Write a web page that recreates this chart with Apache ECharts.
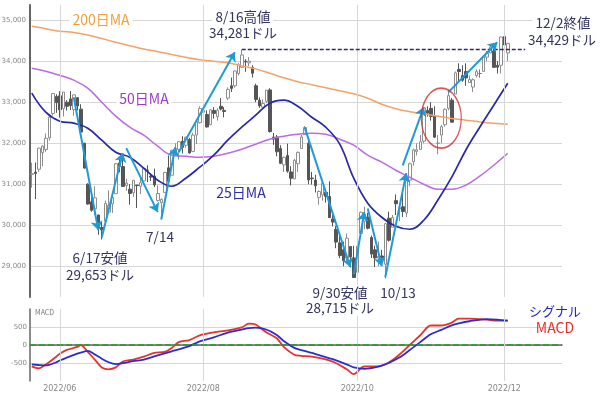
<!DOCTYPE html>
<html><head><meta charset="utf-8">
<script src="https://cdn.jsdelivr.net/npm/echarts@6/dist/echarts.min.js"></script>
<style>html,body{margin:0;padding:0;background:#fff}#c{width:600px;height:395px}</style>
</head><body><div id="c"></div>
<script>
// ---- categories (trading days, 2022) ----
const dates = ['5/19','5/20','5/23','5/24','5/25','5/26','5/27','5/31',
'6/1','6/2','6/3','6/6','6/7','6/8','6/9','6/10','6/13','6/14','6/15','6/16','6/17','6/21','6/22','6/23','6/24','6/27','6/28','6/29','6/30',
'7/1','7/5','7/6','7/7','7/8','7/11','7/12','7/13','7/14','7/15','7/18','7/19','7/20','7/21','7/22','7/25','7/26','7/27','7/28','7/29',
'8/1','8/2','8/3','8/4','8/5','8/8','8/9','8/10','8/11','8/12','8/15','8/16','8/17','8/18','8/19','8/22','8/23','8/24','8/25','8/26','8/29','8/30','8/31',
'9/1','9/2','9/6','9/7','9/8','9/9','9/12','9/13','9/14','9/15','9/16','9/19','9/20','9/21','9/22','9/23','9/26','9/27','9/28','9/29','9/30',
'10/3','10/4','10/5','10/6','10/7','10/10','10/11','10/12','10/13','10/14','10/17','10/18','10/19','10/20','10/21','10/24','10/25','10/26','10/27','10/28','10/31',
'11/1','11/2','11/3','11/4','11/7','11/8','11/9','11/10','11/11','11/14','11/15','11/16','11/17','11/18','11/21','11/22','11/23','11/25','11/28','11/29','11/30',
'12/1','12/2'];
const padDates = ['12/5','12/6','12/7','12/8','12/9','12/12','12/13','12/14','12/15','12/16','12/19','12/20','12/21','12/22','12/23'];

// ---- OHLC ----
const open = [31240,31294,31366,31770,31845,32130,32725,33138,
33156,32843,33000,33080,32820,33110,32830,32000,31000,30570,30400,30250,29945,30100,30320,30520,30770,31520,31430,30970,30880,
30790,30980,30950,31080,31340,31200,31200,30600,30550,30800,31400,31220,31800,31850,32050,31950,32090,31800,32200,32500,
32750,32700,32450,32800,32650,32900,32800,33100,33400,33400,33700,33850,34000,33960,33850,33400,33050,32880,33020,33300,32150,32150,31870,
31470,31700,31300,31130,31500,31870,32210,32000,31150,31100,30680,30740,30800,30700,30150,29900,29570,29400,29200,29480,29200,
28850,29800,30100,30200,29700,29400,29200,29250,29050,30170,29950,30600,30400,30450,30300,31100,31550,31800,31850,32050,32800,
32850,32660,32000,32200,32450,32850,33050,33200,33800,33650,33750,33480,33370,33650,33700,33750,34100,34200,34250,33900,33900,
34600,34200];
const close = [31253,31262,31880,31928,32120,32637,33213,32990,
32813,33248,32900,32916,33180,32910,32272,31393,30517,30365,30668,29927,29888,30530,30484,30677,31500,31438,30947,31029,30775,
31097,30967,31037,31385,31338,31173,30982,30773,30630,31288,31073,31827,31875,32036,31899,32145,31762,32198,32530,32845,
32798,32397,32813,32727,32803,32833,32775,33310,33337,33761,33913,34152,33981,33999,33707,33064,32910,32970,33292,32283,32099,31791,31510,
31656,31318,31145,31581,31775,32152,32381,31105,31135,30961,30822,31020,30706,30184,30077,29590,29261,29135,29684,29226,28726,
29491,30317,30274,29927,29297,29203,29240,29211,30039,29635,30186,30524,30424,30334,31083,31500,31837,31839,32034,32861,32733,
32653,32148,32002,32403,32827,33161,32514,33716,33748,33537,33593,33554,33547,33746,33700,34098,34195,34347,33850,33853,34590,
34395,34430];
const low = [30915,30636,31300,31444,31788,32062,32674,32740,
32623,32650,32795,32812,32670,32800,32270,31380,30500,30330,30250,29770,29653,30100,30290,30300,30770,31290,30940,30840,30500,
30690,30420,30760,31080,31050,31080,30930,30580,30143,30800,31050,31220,31700,31600,31750,31890,31750,31780,31980,32480,
32550,32380,32440,32600,32550,32800,32630,33050,33250,33350,33650,33850,33740,33880,33600,33000,32860,32850,32980,32260,31960,31680,31490,
31300,31280,30970,31130,31300,31870,32200,31000,30990,30800,30500,30600,30550,30180,29970,29440,29200,29000,29120,28970,28715,
28850,29800,29900,29900,29200,28980,29000,29180,28700,29600,29950,30250,30100,30200,30200,30950,31450,31700,31850,32000,32650,
32550,32130,31730,32000,32400,32800,32500,33200,33500,33500,33400,33480,33250,33600,33600,33750,34000,34200,33850,33700,33700,
34200,34000];
const high = [31526,31529,31885,31950,32237,32691,33213,33193,
33271,33250,33050,33272,33180,33128,32950,32010,31020,30680,30950,30250,30090,30600,30850,30730,31510,31650,31700,31130,31000,
31100,30980,31190,31400,31460,31270,31380,30970,30650,31300,31700,31830,32000,32050,32170,32160,32130,32250,32560,32900,
32970,32800,32830,32880,32850,33100,32880,33360,33600,33770,33960,34281,34050,34100,33900,33450,33120,33070,33300,33340,32250,32200,31950,
31670,31990,31440,31620,31800,32200,32420,32050,31300,31230,30850,31030,30890,31070,30260,29980,29800,29600,29800,29490,29500,
29520,30330,30450,30300,29750,29500,29600,29400,30040,30330,30250,30750,30500,30800,31100,31530,31870,32000,32200,32870,32900,
33000,32900,32200,32450,32850,33300,33100,33750,33950,33900,33950,33650,33580,33800,33800,34100,34250,34370,34300,34000,34590,
34600,34450];

// ---- moving averages ----
const maDates = ['5/19','5/25','6/1','6/7','6/13','6/17','6/24','6/30','7/7','7/13','7/19','7/25','7/29','8/4','8/10','8/16','8/22','8/26',
'9/1','9/8','9/14','9/20','9/26','9/30','10/6','10/12','10/18','10/24','10/28','11/3','11/9','11/15','11/21','11/28','12/2'];
const ma25 = [33220,32756,32537,32488,32366,32073,31781,31659,31390,31098,30951,31146,31415,31707,32073,32390,32683,32976,
33049,32902,32634,32390,31976,31146,30537,30195,29976,29902,30122,30610,31171,31829,32390,32927,33463];
const ma50 = [33829,33756,33659,33537,33341,33000,32659,32390,32195,31927,31707,31683,31659,31683,31756,31854,31976,32098,
32171,32220,32244,32220,32098,31951,31707,31537,31341,31171,31000,30878,30878,30976,31195,31463,31756];
const ma200 = [34854,34793,34732,34700,34637,34551,34463,34378,34298,34232,34163,34095,34037,34000,33963,33885,33812,33707,
33598,33500,33427,33354,33278,33207,33098,32950,32841,32768,32717,32659,32602,32561,32520,32488,32463];

// ---- MACD ----
const macdDates = ['5/19','5/23','5/25','5/31','6/1','6/3','6/8','6/9','6/13','6/15','6/17','6/22','6/24','6/28','7/1','7/7','7/12','7/15','7/19','7/21',
'7/26','7/29','8/4','8/10','8/16','8/18','8/22','8/25','8/30','9/1','9/7','9/9','9/14','9/22','9/28','9/30','10/5','10/11','10/14','10/19',
'10/24','10/27','11/1','11/4','11/9','11/11','11/16','11/23','11/29','12/2'];
const macd = [-595,-649,-541,-324,-243,-135,-54,0,-189,-405,-622,-676,-622,-460,-405,-324,-216,-189,-81,81,
135,270,351,405,487,595,568,351,189,-54,-270,-300,-324,-460,-676,-811,-595,-595,-487,-270,
0,270,541,541,622,730,730,703,676,676];
const signal = [-541,-555,-568,-480,-432,-350,-240,-210,-165,-260,-380,-480,-530,-505,-450,-405,-315,-230,-175,-120,
-30,100,210,345,430,470,480,430,280,110,-80,-140,-220,-395,-540,-620,-660,-600,-500,-350,
-140,80,300,420,545,600,660,720,705,676];

// ---- axis ticks ----
const monthTicks = ['6/1','8/1','10/3','12/1'];
const monthLabels = ['2022/06','2022/08','2022/10','2022/12'];

// ---- annotations (data coordinates) ----
const arrows = [
 ['6/7',33120,'6/16',29880],
 ['6/17',29700,'6/28',31760],
 ['6/29',31880,'7/13',30320],
 ['7/14',30140,'7/20',31900],
 ['7/21',31780,'8/12',34220],
 ['9/12',32380,'9/29',28980],
 ['9/30',28800,'10/5',30320],
 ['10/6',30410,'10/12',29000],
 ['10/13',28730,'10/21',31270],
 ['10/20',31460,'10/28',32880],
 ['11/8',33240,'11/29',34460]
];
const highLine = ['8/16', 34281, '12/9'];
const circleAt = ['11/4', 32610];
const texts = {
  ma200:'200日MA', ma50:'50日MA', ma25:'25日MA',
  hi1:'8/16高値', hi2:'34,281ドル', last1:'12/2終値', last2:'34,429ドル',
  lo1:'6/17安値', lo2:'29,653ドル', d714:'7/14', lo3:'9/30安値', lo4:'28,715ドル', d1013:'10/13',
  sig:'シグナル', macd:'MACD'
};

// ---- build ----
const cats = dates.concat(padDates);
const ix = d => cats.indexOf(d);
const candles = dates.map((d,i)=>[open[i],close[i],low[i],high[i]]);
const pairs = (ds, vs) => ds.map((d,i)=>[ix(d), vs[i]]);
const fmt = v => String(v).replace(/\B(?=(\d{3})+(?!\d))/g, ',');
const JP = '"Noto Sans CJK JP", "Noto Sans", sans-serif';
const vlines = monthTicks.map(m => ({xAxis: ix(m)}));

function T(text, x, y, color, size, bg, align){
  return {type:'text', x:x, y:y, z:100, silent:true,
    style:{text:text, fill:color, font: size+'px '+JP,
      align: align||'center', textAlign: align||'center',
      verticalAlign:'middle', textVerticalAlign:'middle',
      backgroundColor: bg===false ? 'transparent' : '#fff', padding:[1,3]}};
}

const chart = echarts.init(document.getElementById('c'), null, {renderer:'canvas'});
const NAVY = '#33345f';
chart.setOption({
  animation:false,
  backgroundColor:'#fff',
  grid:[
    {left:30, width:532, top:5, height:292, outerBoundsMode:'none'},
    {left:30, width:532, top:309, height:72, outerBoundsMode:'none'}
  ],
  xAxis:[
    {type:'category', gridIndex:0, data:cats, boundaryGap:true,
     axisLine:{show:false}, axisTick:{show:false}, axisLabel:{show:false}, splitLine:{show:false}},
    {type:'category', gridIndex:1, data:cats, boundaryGap:true,
     axisLine:{show:true, lineStyle:{color:'#666', width:1.5}}, axisTick:{show:false},
     axisLabel:{color:'#888', fontSize:8, fontFamily:'DejaVu Sans', margin:4,
       interval:(i, v) => monthTicks.indexOf(v) >= 0,
       formatter: v => monthLabels[monthTicks.indexOf(v)] || ''},
     splitLine:{show:false}}
  ],
  yAxis:[
    {type:'value', gridIndex:0, min:28250, max:35370, splitNumber:7,
     axisLine:{show:true, lineStyle:{color:'#666', width:2}}, axisTick:{show:false},
     axisLabel:{color:'#888', fontSize:7, fontFamily:'DejaVu Sans', margin:4,
       showMinLabel:false, showMaxLabel:false, formatter: fmt},
     splitLine:{show:true, showMinLine:false, showMaxLine:false, lineStyle:{color:'#d6d6d6', width:1}}},
    {type:'value', gridIndex:1, min:-1000, max:1000, interval:500,
     axisLine:{show:true, lineStyle:{color:'#666', width:1.5}}, axisTick:{show:false},
     axisLabel:{color:'#888', fontSize:7, fontFamily:'DejaVu Sans', margin:3,
       showMinLabel:false, showMaxLabel:false},
     splitLine:{show:true, showMinLine:false, showMaxLine:false, lineStyle:{color:'#d6d6d6', width:1}}}
  ],
  series:[
    {type:'line', xAxisIndex:0, yAxisIndex:0, data:[], z:1, silent:true,
     markLine:{silent:true, symbol:['none','none'], label:{show:false},
       lineStyle:{color:'#d6d6d6', width:1, type:'solid'}, data:vlines}},
    {type:'line', xAxisIndex:1, yAxisIndex:1, data:[], z:1, silent:true,
     markLine:{silent:true, symbol:['none','none'], label:{show:false},
       lineStyle:{color:'#d6d6d6', width:1, type:'solid'}, data:vlines}},
    {type:'candlestick', xAxisIndex:0, yAxisIndex:0, data:candles, barWidth:3, z:2,
     itemStyle:{color:'#ffffff', color0:'#555555', borderColor:'#8e8e8e', borderColor0:'#555555',
       borderColorDoji:'#777777', borderWidth:1}},
    {type:'line', xAxisIndex:0, yAxisIndex:0, data:pairs(maDates, ma200), showSymbol:false, symbol:'none',
     smooth:0.4, z:3, lineStyle:{color:'#F4A26A', width:1.5}},
    {type:'line', xAxisIndex:0, yAxisIndex:0, data:pairs(maDates, ma50), showSymbol:false, symbol:'none',
     smooth:0.4, z:3, lineStyle:{color:'#BB6BE3', width:1.5}},
    {type:'line', xAxisIndex:0, yAxisIndex:0, data:pairs(maDates, ma25), showSymbol:false, symbol:'none',
     smooth:0.4, z:3, lineStyle:{color:'#2828A8', width:1.7}},
    {type:'line', xAxisIndex:0, yAxisIndex:0, data:[], z:4, silent:true,
     markLine:{silent:true, symbol:['none','none'], label:{show:false},
       lineStyle:{color:'#2a2a6e', width:1.3, type:[4,2]},
       data:[[{coord:[ix(highLine[0]), highLine[1]]},{coord:[ix(highLine[2]), highLine[1]]}]]}},
    {type:'line', xAxisIndex:0, yAxisIndex:0, data:[], z:5, silent:true,
     markLine:{silent:true, symbol:['none','arrow'], symbolSize:9, label:{show:false},
       lineStyle:{color:'#1E9BD7', width:2, type:'solid'},
       data: arrows.map(a => [{coord:[ix(a[0]), a[1]]},{coord:[ix(a[2]), a[3]]}])}},
    {type:'scatter', xAxisIndex:0, yAxisIndex:0, data:[[ix(circleAt[0]), circleAt[1]]], z:5, silent:true,
     symbol:'circle', symbolSize:[40,60],
     itemStyle:{color:'rgba(0,0,0,0)', borderColor:'#D42C2C', borderWidth:1.5}},
    {type:'line', xAxisIndex:1, yAxisIndex:1, data:pairs(macdDates, macd), showSymbol:false, symbol:'none',
     smooth:0.3, z:3, lineStyle:{color:'#E8322C', width:1.8},
     markLine:{silent:true, symbol:['none','none'], label:{show:false},
       lineStyle:{color:'#22A022', width:1.5, type:[6,3]}, data:[{yAxis:0}]}},
    {type:'line', xAxisIndex:1, yAxisIndex:1, data:pairs(macdDates, signal), showSymbol:false, symbol:'none',
     smooth:0.3, z:4, lineStyle:{color:'#2A2ED2', width:1.8}}
  ],
  graphic:[
    T(texts.ma200, 101, 20, '#F2A03C', 14),
    T(texts.ma50, 144, 99, '#9A3CC8', 14),
    T(texts.ma25, 241, 193, '#2E2EA6', 14),
    T(texts.hi1, 243, 17, NAVY, 13.5),
    T(texts.hi2, 243, 33, NAVY, 13.5),
    T(texts.last1, 563, 23, NAVY, 13.5),
    T(texts.last2, 562, 40, NAVY, 13.5),
    T(texts.lo1, 100, 258, NAVY, 13.5),
    T(texts.lo2, 100, 275, NAVY, 13.5),
    T(texts.d714, 160, 237, NAVY, 13.5),
    T(texts.lo3, 340, 293, NAVY, 13.5),
    T(texts.lo4, 340, 308, NAVY, 13.5),
    T(texts.d1013, 398, 293, NAVY, 13.5),
    T(texts.sig, 555, 311, '#2222CC', 13, false),
    T(texts.macd, 555, 328, '#E83030', 14, false),
    T('MACD', 32, 312, '#777', 7, false, 'left')
  ]
});
</script></body></html>
